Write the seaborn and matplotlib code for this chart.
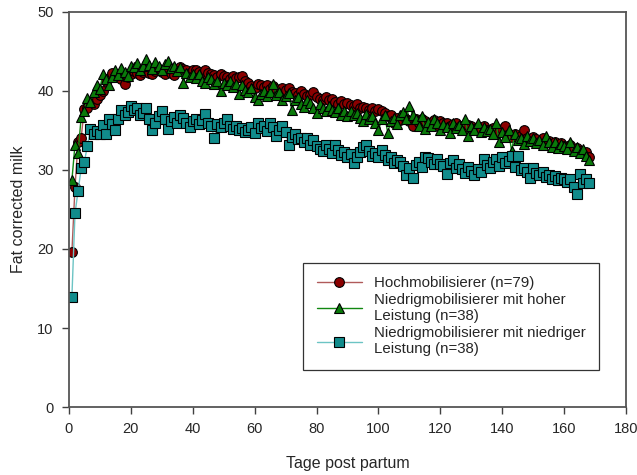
import numpy as np
import pandas as pd
import matplotlib
matplotlib.use("Agg")
import matplotlib.pyplot as plt
import seaborn as sns

days = list(range(1, 169))

hoch = [
    19.6, 27.8, 33.6, 34.1, 37.7, 37.9, 38.6, 38.4, 39.0, 39.5,
    40.0, 41.2, 41.6, 42.3, 41.9, 42.1, 41.5, 40.9, 41.7, 42.2,
    42.5, 42.3, 42.0, 42.4, 42.6, 42.3, 42.1, 42.5, 42.8, 42.4,
    42.2, 42.6, 42.3, 42.0, 42.5, 43.0, 42.8, 42.6, 42.3, 42.7,
    42.6, 42.4, 42.1, 42.6, 42.3, 42.2, 42.0, 41.8, 42.2, 41.9,
    41.7, 41.5, 41.9, 41.6, 41.8, 41.9, 41.3, 41.0, 40.6, 40.4,
    40.9, 40.7, 40.5, 40.8, 40.3, 40.6, 40.2, 40.0, 40.4, 40.1,
    40.4, 39.9, 39.7, 39.5, 40.0, 39.6, 39.3, 39.5, 39.8, 39.2,
    39.0, 38.8, 39.2, 38.9, 39.0, 38.6, 38.4, 38.7, 38.3, 38.5,
    38.2, 38.1, 38.4, 37.8, 38.0, 37.9, 37.6, 37.9, 37.4, 37.7,
    37.5, 37.2, 36.8, 37.0, 35.9, 36.6, 36.3, 37.0, 36.5, 36.2,
    35.6, 36.4, 36.0, 36.5, 36.2, 35.8, 36.0, 36.3, 35.7, 36.2,
    35.9, 36.0, 35.5, 35.8, 35.9, 35.4, 35.6, 35.3, 35.7, 35.5,
    35.2, 35.4, 35.0, 35.6, 35.1, 34.9, 35.3, 35.0, 34.8, 35.2,
    35.6, 34.5, 34.2, 34.6, 34.0, 34.3, 35.0, 34.1, 33.8, 34.2,
    33.9, 33.6, 34.0, 33.5, 33.7, 33.3, 33.6, 33.2, 33.4, 33.0,
    32.9, 33.1, 32.6, 32.8, 32.4, 32.1, 32.3, 31.7,
]

niedrig_hoch = [
    28.7, 33.2, 32.2, 36.7, 37.5, 39.1, 38.6, 39.8, 40.7, 40.2,
    42.2, 41.5, 40.8, 41.8, 42.6, 42.0, 42.9, 42.4, 41.9, 43.2,
    43.0, 43.5, 42.6, 43.2, 44.0, 43.3, 42.8, 43.6, 43.1, 42.7,
    43.4, 43.8, 42.9, 43.2, 42.5, 43.0, 41.0, 42.3, 41.8, 42.1,
    41.6, 42.2, 41.3, 41.0, 41.8, 41.5, 40.9, 41.3, 40.0, 41.0,
    40.8, 41.2, 40.5, 40.9, 39.6, 40.7, 40.1, 39.8, 40.4, 39.2,
    38.8, 39.6, 40.0, 39.4, 39.8, 40.9, 39.5, 39.9, 38.9, 39.3,
    39.7, 37.6, 38.8, 39.2, 38.4, 38.0, 38.9, 38.5, 37.8, 37.2,
    38.3, 37.9, 37.5, 38.1, 37.6, 37.3, 37.8, 37.0, 37.5, 36.8,
    37.4, 36.9, 37.2, 36.6, 36.2, 37.1, 36.5, 36.8, 36.0, 35.0,
    36.4, 36.9, 34.7, 36.2, 36.6, 35.8, 36.9, 37.3, 36.5, 38.1,
    37.0, 36.4, 35.6, 36.8, 35.2, 36.1, 35.5, 36.4, 35.9, 35.1,
    35.8, 35.4, 34.7, 36.0, 35.3, 35.7, 35.0, 36.5, 34.3, 35.6,
    35.1, 35.9, 34.8, 35.4, 34.9, 35.2, 34.6, 36.0, 33.5, 34.8,
    34.2, 35.0, 32.4, 34.5, 33.8, 34.1, 33.3, 34.3, 33.7, 34.0,
    33.4, 33.8, 33.1, 34.3, 33.5, 32.9, 33.6, 32.8, 33.3, 33.0,
    32.7, 33.5, 32.4, 32.9, 32.2, 32.6, 31.8, 31.2,
]

niedrig_niedrig = [
    13.9, 24.5, 27.3, 30.2, 31.0, 33.0, 35.2, 34.6, 34.9, 34.6,
    35.7, 34.5, 36.5, 35.8, 35.1, 36.4, 37.6, 36.9, 37.3, 38.1,
    37.6, 37.8, 36.9, 37.2, 37.8, 36.4, 35.0, 36.0, 36.8, 37.4,
    36.5, 35.2, 36.2, 36.7, 36.0, 36.9, 36.6, 35.9, 35.4, 36.2,
    36.5, 35.8, 36.3, 37.1, 35.9, 35.5, 34.1, 35.8, 35.4, 35.9,
    36.4, 35.6, 35.2, 35.5, 35.0, 35.3, 34.8, 35.0, 35.4, 34.7,
    35.9, 35.3, 35.6, 34.9, 35.9, 35.4, 34.3, 35.1, 35.5, 34.8,
    33.1, 34.2, 34.6, 33.9, 34.1, 33.5, 34.0, 33.2, 33.8, 33.0,
    32.7, 32.4, 33.1, 32.6, 32.2, 33.1, 32.5, 31.9, 32.3, 31.7,
    32.0, 30.9, 31.7, 32.3, 32.9, 33.1, 32.4, 31.8, 32.1, 31.6,
    32.5, 31.9, 31.2, 31.6, 30.9, 31.3, 31.0, 30.5, 29.3, 30.2,
    29.0, 30.6, 31.0, 30.4, 31.6, 31.5, 31.0, 30.7, 31.4, 30.8,
    30.5, 29.5, 30.9, 31.2, 30.3, 30.8, 30.1, 29.6, 30.4, 29.9,
    29.3, 30.1, 29.7, 31.4, 30.6, 30.2, 31.0, 31.4, 30.5, 31.6,
    30.9, 31.1, 31.8, 30.4, 31.8, 30.0, 30.3, 29.7, 29.0, 30.2,
    29.6, 29.3, 29.8, 29.1, 29.3, 28.9, 29.2, 28.7, 29.0, 28.8,
    28.5, 28.9, 27.8, 27.0, 29.5, 28.4, 28.9, 28.4,
]

labels = [
    "Hochmobilisierer (n=79)",
    "Niedrigmobilisierer mit hoher\nLeistung (n=38)",
    "Niedrigmobilisierer mit niedriger\nLeistung (n=38)",
]
x_ticks = [0, 20, 40, 60, 80, 100, 120, 140, 160, 180]
y_ticks = [0, 10, 20, 30, 40, 50]

sns.set_theme(style="white")
plt.rcParams["font.family"] = ["Liberation Sans", "DejaVu Sans"]

fig = plt.figure(figsize=(6.37, 4.75), dpi=100)
ax = fig.add_axes([0.108, 0.143, 0.875, 0.832])

styles = [
    dict(color="#b05a5a", marker="o", mfc="#8b0000", ms=7.0),
    dict(color="#118811", marker="^", mfc="#0a7a0a", ms=7.5),
    dict(color="#6cc4c4", marker="s", mfc="#118c8c", ms=7.0),
]
series = [hoch, niedrig_hoch, niedrig_niedrig]

for vals, lab, st in zip(series, labels, styles):
    df = pd.DataFrame({"Tag": days, "FCM": vals})
    sns.lineplot(data=df, x="Tag", y="FCM", ax=ax, color=st["color"],
                 linewidth=1.0, marker=st["marker"], markersize=st["ms"],
                 markerfacecolor=st["mfc"], markeredgecolor="black",
                 markeredgewidth=0.8, label=lab)

ax.set_xlim(0, 180)
ax.set_ylim(0, 50)
ax.set_xticks(x_ticks)
ax.set_yticks(y_ticks)
ax.tick_params(axis="both", which="both", direction="out", length=5,
               width=1, color="#404040", labelsize=10.5, left=True, bottom=True,
               top=False, right=False, pad=6)
for sp in ax.spines.values():
    sp.set_color("#555555")
    sp.set_linewidth(1.3)
ax.set_xlabel("Tage post partum", fontsize=11.5, labelpad=14)
ax.set_ylabel("Fat corrected milk", fontsize=11.5, labelpad=8)

leg = ax.legend(loc="lower right", bbox_to_anchor=(0.965, 0.075), fontsize=10.8,
                frameon=True, fancybox=False, edgecolor="black",
                handlelength=3.0, borderpad=0.9, labelspacing=0.2,
                handletextpad=0.8)
leg.get_frame().set_linewidth(0.9)

fig.savefig("out.png", dpi=100)
